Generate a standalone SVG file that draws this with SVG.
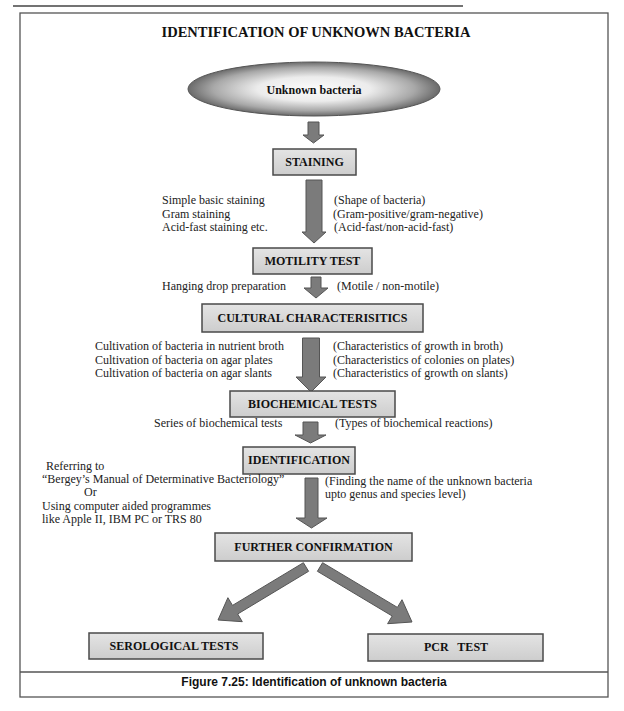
<svg xmlns="http://www.w3.org/2000/svg" width="624" height="711" viewBox="0 0 624 711">
<defs>
<radialGradient id="ellG" cx="50%" cy="50%" r="50%">
<stop offset="0" stop-color="#fbfbfb"/>
<stop offset="0.45" stop-color="#ececec"/>
<stop offset="0.8" stop-color="#a8a8a8"/>
<stop offset="1" stop-color="#6a6a6a"/>
</radialGradient>
<linearGradient id="boxG" x1="0" y1="0" x2="0" y2="1">
<stop offset="0" stop-color="#e4e4e4"/>
<stop offset="1" stop-color="#cdcdcd"/>
</linearGradient>
<style>
.box{fill:url(#boxG);stroke:#4a4a4a;stroke-width:1.5}
.lbl{font-family:"Liberation Serif",serif;font-weight:bold;font-size:12px;fill:#111;text-anchor:middle}
.t{font-family:"Liberation Serif",serif;font-size:12px;fill:#222}
.arr{fill:#7b7b7b;stroke:#555;stroke-width:1}
</style>
</defs>
<rect width="624" height="711" fill="#fff"/>
<line x1="13" y1="6" x2="463" y2="6" stroke="#444" stroke-width="1.5"/>
<rect x="20" y="13" width="588" height="684" fill="none" stroke="#555" stroke-width="1.3"/>
<line x1="20" y1="672" x2="608" y2="672" stroke="#555" stroke-width="1.3"/>
<text x="316" y="37" font-family="Liberation Serif,serif" font-weight="bold" font-size="14.5" text-anchor="middle" fill="#111">IDENTIFICATION OF UNKNOWN BACTERIA</text>

<g id="connectors">
<polygon class="arr" points="308,122 319,122 319,135 324,135 313.5,143 303,135 308,135"/>
<polygon class="arr" points="306,180 322,180 322,232 326,232 314,243 302,232 306,232"/>
<polygon class="arr" points="311,277 321,277 321,288 328,288 316,298 304,288 311,288"/>
<polygon class="arr" points="302.5,338 319.5,338 319.5,377 326,377 311,392 296,377 302.5,377"/>
<polygon class="arr" points="303,422 318,422 318,435 326,435 310.5,443 295,435 303,435"/>
<polygon class="arr" points="305,478 318,478 318,518 327,518 311.5,528 296,518 305,518"/>
<polygon class="arr" points="303.4,562.7 308.6,571.3 237.7,614.0 242.3,621.7 218,620 227.9,597.7 232.5,605.4"/>
<polygon class="arr" points="317.4,571.3 322.6,562.7 397.4,607.4 402.0,599.7 412,622 387.6,623.7 392.2,616.0"/>
</g>

<g id="unknown">
<ellipse cx="314" cy="89" rx="126" ry="27" fill="url(#ellG)" stroke="#555" stroke-width="1"/>
<text class="lbl" x="314" y="94">Unknown bacteria</text>
</g>
<g id="staining">
<rect class="box" x="273" y="149" width="83" height="26"/>
<text class="lbl" x="314.5" y="166">STAINING</text>
<text class="t" x="162" y="204">Simple basic staining</text>
<text class="t" x="162" y="217.5">Gram staining</text>
<text class="t" x="162" y="231">Acid-fast staining etc.</text>
<text class="t" x="334" y="204">(Shape of bacteria)</text>
<text class="t" x="333" y="217.5">(Gram-positive/gram-negative)</text>
<text class="t" x="334" y="231">(Acid-fast/non-acid-fast)</text>
</g>
<g id="motility">
<rect class="box" x="253" y="248" width="119" height="26"/>
<text class="lbl" x="312.5" y="265">MOTILITY TEST</text>
<text class="t" x="162" y="290">Hanging drop preparation</text>
<text class="t" x="337" y="290">(Motile / non-motile)</text>
</g>
<g id="cultural">
<rect class="box" x="202" y="304" width="221" height="28"/>
<text class="lbl" x="312.5" y="322">CULTURAL CHARACTERISITICS</text>
<text class="t" x="95" y="350">Cultivation of bacteria in nutrient broth</text>
<text class="t" x="95" y="363.5">Cultivation of bacteria on agar plates</text>
<text class="t" x="95" y="377">Cultivation of bacteria on agar slants</text>
<text class="t" x="333" y="350">(Characteristics of growth in broth)</text>
<text class="t" x="333" y="363.5">(Characteristics of colonies on plates)</text>
<text class="t" x="333" y="377">(Characteristics of growth on slants)</text>
</g>
<g id="biochemical">
<rect class="box" x="230" y="391" width="165" height="26"/>
<text class="lbl" x="312.5" y="408">BIOCHEMICAL TESTS</text>
<text class="t" x="154" y="427">Series of biochemical tests</text>
<text class="t" x="335" y="427">(Types of biochemical reactions)</text>
</g>
<g id="identification">
<rect class="box" x="243" y="447" width="112" height="27"/>
<text class="lbl" x="299" y="464">IDENTIFICATION</text>
<text class="t" x="46" y="470">Referring to</text>
<text class="t" x="42" y="483">“Bergey’s Manual of Determinative Bacteriology”</text>
<text class="t" x="84" y="496">Or</text>
<text class="t" x="42" y="509.5">Using computer aided programmes</text>
<text class="t" x="42" y="523">like Apple II, IBM PC or TRS 80</text>
<text class="t" x="325" y="485">(Finding the name of the unknown bacteria</text>
<text class="t" x="325" y="497.5">upto genus and species level)</text>
</g>
<g id="further">
<rect class="box" x="215" y="533" width="197" height="28"/>
<text class="lbl" x="313.5" y="551">FURTHER CONFIRMATION</text>
</g>
<g id="serological">
<rect class="box" x="89" y="633" width="174" height="26"/>
<text class="lbl" x="174" y="650">SEROLOGICAL TESTS</text>
</g>
<g id="pcr">
<rect class="box" x="368" y="634" width="175" height="27"/>
<text class="lbl" x="456" y="651" xml:space="preserve" style="white-space:pre">PCR   TEST</text>
</g>
<text x="314" y="686" font-family="Liberation Sans,Arial,sans-serif" font-weight="bold" font-size="12" text-anchor="middle" fill="#111">Figure 7.25: Identification of unknown bacteria</text>
</svg>
